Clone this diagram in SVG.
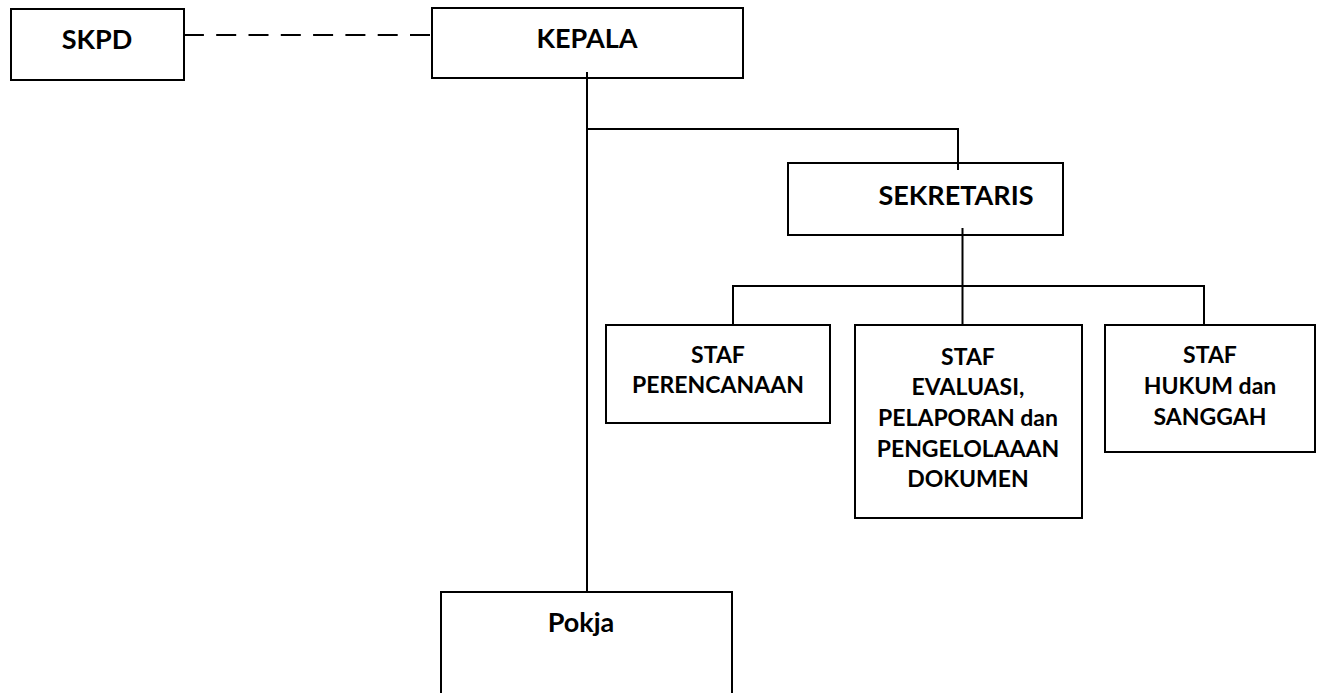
<svg xmlns="http://www.w3.org/2000/svg" width="1317" height="693" viewBox="0 0 1317 693">
<style>
.box{fill:#fff;stroke:#000;stroke-width:2}
.ln{fill:none;stroke:#000;stroke-width:2}
.dash{fill:none;stroke:#000;stroke-width:2;stroke-dasharray:20 12.3}
.t1{font-family:Lato,"Open Sans","Liberation Sans",sans-serif;font-weight:bold;font-size:27px;text-anchor:middle;fill:#000}
.t2{font-family:Lato,"Open Sans","Liberation Sans",sans-serif;font-weight:bold;font-size:23px;text-anchor:middle;fill:#000}
</style>
<rect width="1317" height="693" fill="#fff"/>
<g id="connectors">
<path class="dash" d="M430,35 L184,35"/>
<path class="ln" d="M587,72 L587,592"/>
<path class="ln" d="M587,129 L958,129 L958,170"/>
<path class="ln" d="M962.5,228 L962.5,325"/>
<path class="ln" d="M733,325 L733,286 L1204,286 L1204,325"/>
</g>
<g id="skpd">
<rect class="box" x="11" y="9" width="173" height="71"/>
<text class="t1" x="97" y="49">SKPD</text>
</g>
<g id="kepala">
<rect class="box" x="432" y="8" width="311" height="70" fill-opacity="0"/>
<text class="t1" x="587" y="48">KEPALA</text>
</g>
<g id="sekretaris">
<rect class="box" x="788" y="163" width="275" height="72" fill-opacity="0"/>
<text class="t1" x="956" y="205">SEKRETARIS</text>
</g>
<g id="staf-perencanaan">
<rect class="box" x="606" y="325" width="224" height="98"/>
<text class="t2" x="718" y="363">STAF</text>
<text class="t2" x="718" y="393">PERENCANAAN</text>
</g>
<g id="staf-evaluasi">
<rect class="box" x="855" y="325" width="227" height="193"/>
<text class="t2" x="968" y="365">STAF</text>
<text class="t2" x="968" y="395">EVALUASI,</text>
<text class="t2" x="968" y="426">PELAPORAN dan</text>
<text class="t2" x="968" y="457">PENGELOLAAAN</text>
<text class="t2" x="968" y="487">DOKUMEN</text>
</g>
<g id="staf-hukum">
<rect class="box" x="1105" y="325" width="210" height="127"/>
<text class="t2" x="1210" y="363">STAF</text>
<text class="t2" x="1210" y="394">HUKUM dan</text>
<text class="t2" x="1210" y="425">SANGGAH</text>
</g>
<g id="pokja">
<rect class="box" x="441" y="592" width="291" height="120"/>
<text class="t1" x="581" y="632">Pokja</text>
</g>
</svg>
